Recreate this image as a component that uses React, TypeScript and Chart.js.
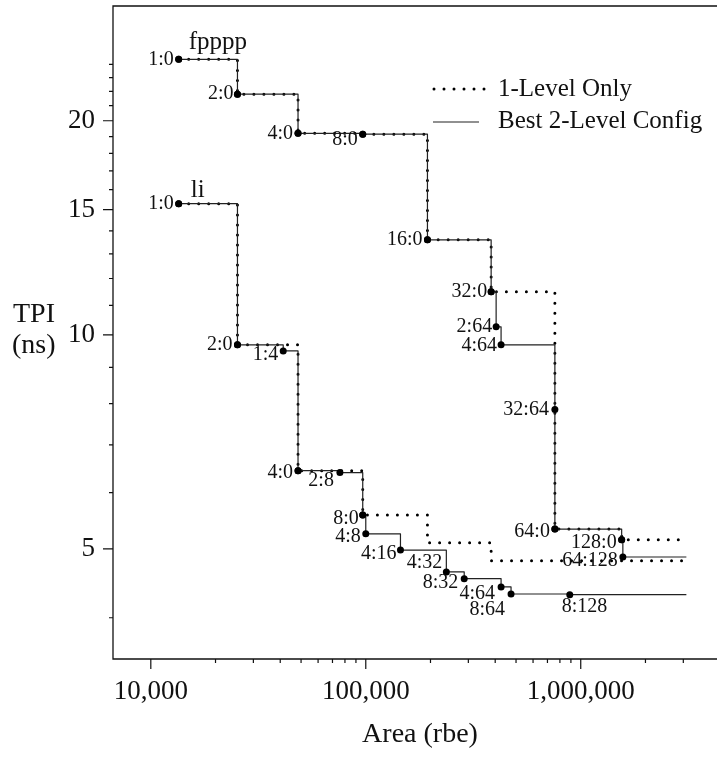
import { useEffect, useRef } from 'react';
import { Chart, registerables } from 'chart.js';

Chart.register(...registerables);

const FONT = '"Liberation Serif", "Times New Roman", serif';

// ---- fpppp ----
const fppppOneArea = [13480, 25300, 48400, 96800, 193600, 383000, 758000, 1550000, 3100000];
const fppppOneTpi = [24.4, 21.8, 19.2, 19.15, 13.6, 11.5, 5.33, 5.15, 5.15];
const fppppOneCfg = ['1:0', '2:0', '4:0', '8:0', '16:0', '32:0', '64:0', '128:0', ''];

const fppppTwoArea = [13480, 25300, 48400, 96800, 193600, 383000, 404000, 426000, 758000, 758000, 1550000, 1570000, 3100000];
const fppppTwoTpi = [24.4, 21.8, 19.2, 19.15, 13.6, 11.5, 10.26, 9.68, 7.85, 5.33, 5.15, 4.87, 4.87];
const fppppTwoCfg = ['1:0', '2:0', '4:0', '8:0', '16:0', '32:0', '2:64', '4:64', '32:64', '64:0', '128:0', '64:128', ''];

// ---- li ----
const liOneArea = [13480, 25300, 48400, 96800, 193600, 383000, 3100000];
const liOneTpi = [15.29, 9.68, 6.44, 5.58, 5.1, 4.81, 4.81];
const liOneCfg = ['1:0', '2:0', '4:0', '8:0', '', '', ''];

const liTwoArea = [13480, 25300, 41300, 48400, 75800, 96800, 100000, 145000, 237000, 287000, 426000, 474000, 889000, 3100000];
const liTwoTpi = [15.29, 9.68, 9.49, 6.44, 6.4, 5.58, 5.25, 4.98, 4.64, 4.54, 4.42, 4.32, 4.31, 4.31];
const liTwoCfg = ['1:0', '2:0', '1:4', '4:0', '2:8', '8:0', '4:8', '4:16', '4:32', '8:32', '4:64', '8:64', '8:128', ''];

const seriesNames = ['fpppp', 'li'];
const legendLabels = ['1-Level Only', 'Best 2-Level Config'];

// ---- axes ----
const xTickValues = [
  10000, 20000, 30000, 40000, 50000, 60000, 70000, 80000, 90000,
  100000, 200000, 300000, 400000, 500000, 600000, 700000, 800000, 900000,
  1000000, 2000000, 3000000,
];
const xMajorTicks = [10000, 100000, 1000000];
const xMajorLabels = ['10,000', '100,000', '1,000,000'];
const yTickValues = [4, 5, 6, 7, 8, 9, 10, 11, 12, 13, 14, 15, 16, 17, 18, 19, 20, 21, 22, 23, 24];
const yMajorTicks = [5, 10, 15, 20];
const yMajorLabels = ['5', '10', '15', '20'];
const xTitle = 'Area (rbe)';
const yTitle = ['TPI', '(ns)'];

// label placement (style only): dx/dy from the marker
type LS = { dx: number; dy: number; align: CanvasTextAlign };
const labelPlace: Record<string, LS> = {
  'fpppp|1:0': { dx: -5, dy: 0, align: 'right' },
  'fpppp|2:0': { dx: -4, dy: 0, align: 'right' },
  'fpppp|4:0': { dx: -5, dy: 0, align: 'right' },
  'fpppp|8:0': { dx: -5, dy: 6, align: 'right' },
  'fpppp|16:0': { dx: -5, dy: 0, align: 'right' },
  'fpppp|32:0': { dx: -4, dy: 0, align: 'right' },
  'fpppp|2:64': { dx: -4, dy: 0, align: 'right' },
  'fpppp|4:64': { dx: -4, dy: 1, align: 'right' },
  'fpppp|32:64': { dx: -6, dy: 0, align: 'right' },
  'fpppp|64:0': { dx: -5, dy: 3, align: 'right' },
  'fpppp|128:0': { dx: -5, dy: 3, align: 'right' },
  'fpppp|64:128': { dx: -5, dy: 4, align: 'right' },
  'li|1:0': { dx: -5, dy: 0, align: 'right' },
  'li|2:0': { dx: -5, dy: 0, align: 'right' },
  'li|1:4': { dx: -5, dy: 4, align: 'right' },
  'li|4:0': { dx: -5, dy: 2, align: 'right' },
  'li|2:8': { dx: -6, dy: 8, align: 'right' },
  'li|8:0': { dx: -4, dy: 4, align: 'right' },
  'li|4:8': { dx: -5, dy: 3, align: 'right' },
  'li|4:16': { dx: -4, dy: 4, align: 'right' },
  'li|4:32': { dx: -4, dy: -9, align: 'right' },
  'li|8:32': { dx: -6, dy: 4, align: 'right' },
  'li|4:64': { dx: -6, dy: 7, align: 'right' },
  'li|8:64': { dx: -6, dy: 16, align: 'right' },
  'li|8:128': { dx: -8, dy: 12, align: 'left' },
};

const pts = (area: number[], tpi: number[]) => area.map((a, i) => ({ x: a, y: tpi[i] }));

const DOT = { borderColor: '#000', borderWidth: 3, borderDash: [0, 10], borderCapStyle: 'round' as const };
const SOLID = { borderColor: '#222', borderWidth: 1.2, borderDash: [] as number[], borderCapStyle: 'butt' as const };

const mkDataset = (name: string, label: string, area: number[], tpi: number[], cfg: string[], style: any) => ({
  label,
  series: name,
  cfg,
  data: pts(area, tpi),
  stepped: true,
  fill: false,
  tension: 0,
  ...style,
  borderJoinStyle: 'round',
  pointRadius: (c: any) => (cfg[c.dataIndex] ? 3.5 : 0),
  pointBackgroundColor: '#000',
  pointBorderColor: '#000',
  pointBorderWidth: 0,
});

const annotate = {
  id: 'annotate',
  afterDraw(chart: any) {
    const { ctx, chartArea: a, scales } = chart;
    const x = scales.x;
    const y = scales.y;
    ctx.save();
    // frame
    ctx.strokeStyle = '#111';
    ctx.lineWidth = 1.3;
    ctx.setLineDash([]);
    ctx.beginPath();
    ctx.moveTo(a.right + 10, a.top);
    ctx.lineTo(a.left, a.top);
    ctx.lineTo(a.left, a.bottom);
    ctx.lineTo(a.right + 10, a.bottom);
    ctx.stroke();
    // tick marks
    ctx.lineWidth = 1.2;
    ctx.beginPath();
    x.ticks.forEach((t: any) => {
      const px = x.getPixelForValue(t.value);
      const len = xMajorTicks.includes(t.value) ? 10 : 4;
      ctx.moveTo(px, a.bottom);
      ctx.lineTo(px, a.bottom + len);
    });
    y.ticks.forEach((t: any) => {
      const py = y.getPixelForValue(t.value);
      const len = yMajorTicks.includes(t.value) ? 10 : 4;
      ctx.moveTo(a.left - len, py);
      ctx.lineTo(a.left, py);
    });
    ctx.stroke();

    ctx.fillStyle = '#111';
    // data labels from the 2-level datasets
    ctx.font = `20px ${FONT}`;
    ctx.textBaseline = 'middle';
    chart.data.datasets.forEach((ds: any, di: number) => {
      if (ds.label !== legendLabels[1]) return;
      const meta = chart.getDatasetMeta(di);
      ds.cfg.forEach((c: string, j: number) => {
        if (!c) return;
        const p = meta.data[j];
        const s = labelPlace[`${ds.series}|${c}`] || { dx: -5, dy: 0, align: 'right' };
        ctx.textAlign = s.align;
        ctx.fillText(c, p.x + s.dx, p.y + s.dy);
      });
    });
    // series names
    ctx.font = `25px ${FONT}`;
    ctx.textAlign = 'left';
    ctx.textBaseline = 'alphabetic';
    chart.data.datasets.forEach((ds: any, di: number) => {
      if (ds.label !== legendLabels[0]) return;
      const p = chart.getDatasetMeta(di).data[0];
      const off = ds.series === seriesNames[0] ? [10, -10] : [12, -7];
      ctx.fillText(ds.series, p.x + off[0], p.y + off[1]);
    });
    // legend
    const lx = a.left + 321;
    ctx.strokeStyle = '#000';
    ctx.lineWidth = 3;
    ctx.lineCap = 'round';
    ctx.setLineDash([0, 10]);
    ctx.beginPath();
    ctx.moveTo(lx, a.top + 83);
    ctx.lineTo(lx + 50.5, a.top + 83);
    ctx.stroke();
    ctx.setLineDash([]);
    ctx.lineCap = 'butt';
    ctx.lineWidth = 1.2;
    ctx.strokeStyle = '#222';
    ctx.beginPath();
    ctx.moveTo(lx - 1, a.top + 116);
    ctx.lineTo(lx + 45, a.top + 116);
    ctx.stroke();
    ctx.font = `25px ${FONT}`;
    ctx.fillText(legendLabels[0], lx + 64, a.top + 90);
    ctx.fillText(legendLabels[1], lx + 64, a.top + 122);
    // axis titles
    ctx.font = `28px ${FONT}`;
    ctx.fillText(yTitle[0], 13, 322);
    ctx.fillText(yTitle[1], 12, 353);
    ctx.textAlign = 'center';
    ctx.fillText(xTitle, 420, 742);
    ctx.restore();
  },
};

const noPad = (s: any) => {
  s.paddingTop = 0;
  s.paddingBottom = 0;
  s.paddingLeft = 0;
  s.paddingRight = 0;
};

export default function App() {
  const ref = useRef<HTMLCanvasElement>(null);
  useEffect(() => {
    if (!ref.current) return;
    const chart = new Chart(ref.current, {
      type: 'line',
      data: {
        datasets: [
          mkDataset(seriesNames[0], legendLabels[1], fppppTwoArea, fppppTwoTpi, fppppTwoCfg, SOLID),
          mkDataset(seriesNames[1], legendLabels[1], liTwoArea, liTwoTpi, liTwoCfg, SOLID),
          mkDataset(seriesNames[0], legendLabels[0], fppppOneArea, fppppOneTpi, fppppOneCfg, DOT),
          mkDataset(seriesNames[1], legendLabels[0], liOneArea, liOneTpi, liOneCfg, DOT),
        ] as any,
      },
      options: {
        responsive: false,
        maintainAspectRatio: false,
        devicePixelRatio: 1,
        animation: false,
        events: [],
        layout: { padding: { top: 6, left: 0, right: 0, bottom: 0 } },
        plugins: { legend: { display: false }, tooltip: { enabled: false }, title: { display: false } },
        scales: {
          x: {
            type: 'logarithmic',
            position: 'bottom',
            min: 6670,
            max: 5000000,
            grid: { display: false, drawTicks: false },
            border: { display: false },
            afterBuildTicks: (s: any) => {
              s.ticks = xTickValues.map((v) => ({ value: v }));
            },
            afterFit: (s: any) => {
              s.height = 99;
              noPad(s);
            },
            ticks: {
              autoSkip: false,
              maxRotation: 0,
              padding: 17,
              color: '#111',
              font: { family: FONT, size: 27 },
              callback: (v: any) => {
                const i = xMajorTicks.indexOf(Number(v));
                return i >= 0 ? xMajorLabels[i] : '';
              },
            },
          },
          y: {
            type: 'logarithmic',
            min: 3.5,
            max: 29,
            grid: { display: false, drawTicks: false },
            border: { display: false },
            afterBuildTicks: (s: any) => {
              s.ticks = yTickValues.map((v) => ({ value: v }));
            },
            afterFit: (s: any) => {
              s.width = 113;
              noPad(s);
            },
            ticks: {
              autoSkip: false,
              padding: 18,
              color: '#111',
              font: { family: FONT, size: 27 },
              callback: (v: any) => {
                const i = yMajorTicks.indexOf(Number(v));
                return i >= 0 ? yMajorLabels[i] : '';
              },
            },
          },
        },
      } as any,
      plugins: [annotate],
    });
    return () => chart.destroy();
  }, []);
  return (
    <div style={{ position: 'absolute', left: 0, top: 0, width: 717, height: 758, overflow: 'hidden', background: '#fff' }}>
      <canvas ref={ref} width={735} height={758} style={{ display: 'block' }} />
    </div>
  );
}
